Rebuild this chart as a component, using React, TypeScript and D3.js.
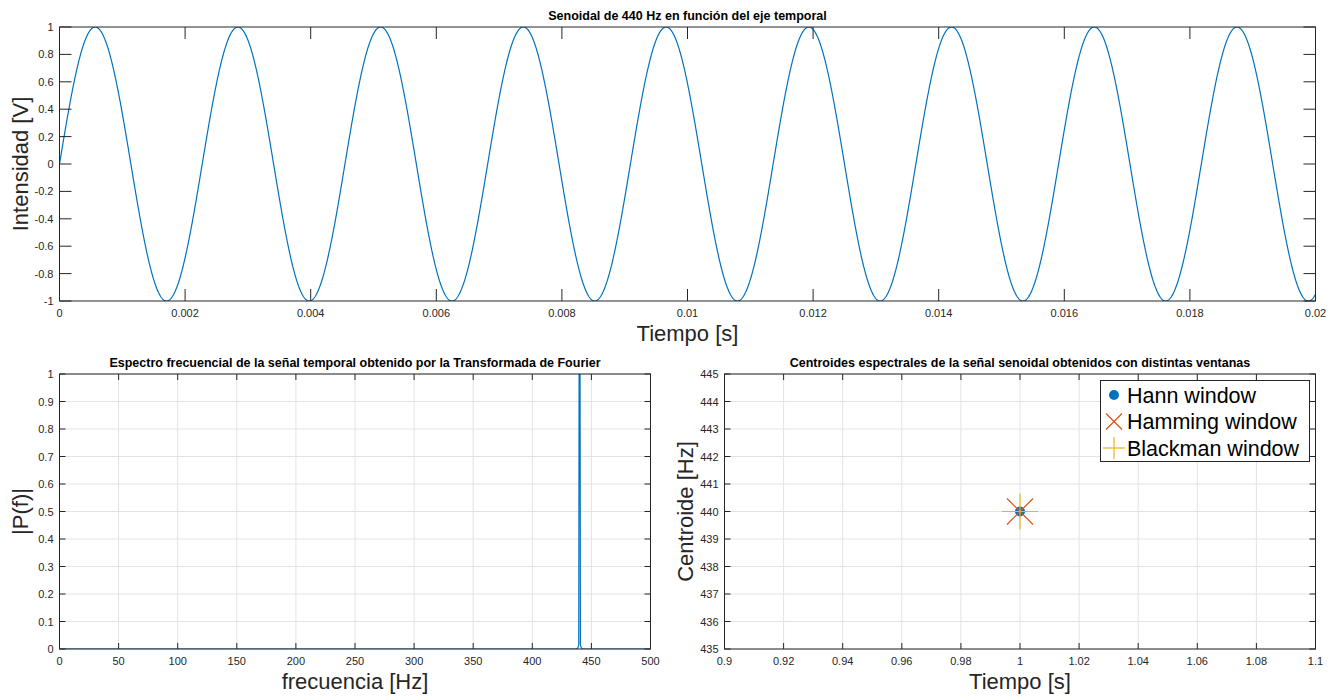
import React from "react";
import * as d3 from "d3";

// ---------- data ----------
const signalFrequency = 440; // Hz, sine shown in the top plot
const timeDomain = [0, 0.02];
const sampleCount = 4000;
const topXTicks = [0, 0.002, 0.004, 0.006, 0.008, 0.01, 0.012, 0.014, 0.016, 0.018, 0.02];
const topYTicks = [-1, -0.8, -0.6, -0.4, -0.2, 0, 0.2, 0.4, 0.6, 0.8, 1];

const spectrumFreq = [0, 437, 438.5, 439.3, 439.6, 440.4, 440.7, 441.5, 443, 500];
const spectrumMag = [0, 0, 0.004, 0.015, 1.0, 1.0, 0.015, 0.004, 0, 0];
const specXTicks = [0, 50, 100, 150, 200, 250, 300, 350, 400, 450, 500];
const specYTicks = [0, 0.1, 0.2, 0.3, 0.4, 0.5, 0.6, 0.7, 0.8, 0.9, 1];

const centroidTime = [1];
const hannCentroid = [440];
const hammingCentroid = [440];
const blackmanCentroid = [440];
const centXTicks = [0.9, 0.92, 0.94, 0.96, 0.98, 1, 1.02, 1.04, 1.06, 1.08, 1.1];
const centYTicks = [435, 436, 437, 438, 439, 440, 441, 442, 443, 444, 445];
const legendLabels = ["Hann window", "Hamming window", "Blackman window"];

// ---------- style ----------
const FONT = "'Liberation Sans', Arial, Helvetica, sans-serif";
const AXC = "#262626";
const GRID = "#e3e3e3";
const BLUE = "#0072BD";
const ORANGE = "#D95319";
const YELLOW = "#EDB120";

type AxesProps = {
  x0: number; x1: number; y0: number; y1: number;
  xs: d3.ScaleLinear<number, number>; ys: d3.ScaleLinear<number, number>;
  xTicks: number[]; yTicks: number[];
  tickLen: number; grid: boolean;
  title: string; xLabel: string; yLabel: string; yLabelX: number;
  children?: React.ReactNode;
};

function fmt(v: number) {
  const s = d3.format("~g")(+v.toPrecision(6));
  return s.replace("−", "-");
}

function Axes(p: AxesProps) {
  const { x0, x1, y0, y1, xs, ys, tickLen } = p;
  return (
    <g>
      {p.grid && p.xTicks.map((t, i) => (
        <line key={"gx" + i} x1={xs(t)} x2={xs(t)} y1={y0} y2={y1} stroke={GRID} strokeWidth={1} />
      ))}
      {p.grid && p.yTicks.map((t, i) => (
        <line key={"gy" + i} x1={x0} x2={x1} y1={ys(t)} y2={ys(t)} stroke={GRID} strokeWidth={1} />
      ))}
      <defs>
        <clipPath id={"clip" + x0 + "_" + y0}>
          <rect x={x0} y={y0} width={x1 - x0} height={y1 - y0} />
        </clipPath>
      </defs>
      <g clipPath={`url(#clip${x0}_${y0})`}>{p.children}</g>
      <rect x={x0} y={y0} width={x1 - x0} height={y1 - y0} fill="none" stroke={AXC} strokeWidth={1} />
      {p.xTicks.map((t, i) => (
        <g key={"tx" + i}>
          <line x1={xs(t)} x2={xs(t)} y1={y1} y2={y1 - tickLen} stroke={AXC} />
          <line x1={xs(t)} x2={xs(t)} y1={y0} y2={y0 + tickLen} stroke={AXC} />
          <text x={xs(t)} y={y1 + 16} textAnchor="middle" fontSize={11} fill={AXC} fontFamily={FONT}>{fmt(t)}</text>
        </g>
      ))}
      {p.yTicks.map((t, i) => (
        <g key={"ty" + i}>
          <line x1={x0} x2={x0 + tickLen} y1={ys(t)} y2={ys(t)} stroke={AXC} />
          <line x1={x1} x2={x1 - tickLen} y1={ys(t)} y2={ys(t)} stroke={AXC} />
          <text x={x0 - 6} y={ys(t) + 4} textAnchor="end" fontSize={11} fill={AXC} fontFamily={FONT}>{fmt(t)}</text>
        </g>
      ))}
      <text x={(x0 + x1) / 2} y={y0 - 7} textAnchor="middle" fontSize={12.5} fontWeight="bold" fill="#000" fontFamily={FONT}>{p.title}</text>
      <text x={(x0 + x1) / 2} y={y1 + 40} textAnchor="middle" fontSize={22} fill={AXC} fontFamily={FONT}>{p.xLabel}</text>
      <text transform={`translate(${p.yLabelX},${(y0 + y1) / 2}) rotate(-90)`} textAnchor="middle" fontSize={22} fill={AXC} fontFamily={FONT}>{p.yLabel}</text>
    </g>
  );
}

export default function App() {
  // top
  const tX0 = 59.5, tX1 = 1315.5, tY0 = 27, tY1 = 301;
  const txs = d3.scaleLinear().domain(timeDomain).range([tX0, tX1]);
  const tys = d3.scaleLinear().domain([-1, 1]).range([tY1, tY0]);
  const times = d3.range(sampleCount + 1).map((i) => timeDomain[0] + (i / sampleCount) * (timeDomain[1] - timeDomain[0]));
  const sinePts: [number, number][] = times.map((t) => [t, Math.sin(2 * Math.PI * signalFrequency * t)]);
  const sineLine = d3.line<[number, number]>().x((d) => txs(d[0])).y((d) => tys(d[1]));

  // bottom-left
  const lX0 = 59.5, lX1 = 650.5, bY0 = 374, bY1 = 649;
  const lxs = d3.scaleLinear().domain([0, 500]).range([lX0, lX1]);
  const lys = d3.scaleLinear().domain([0, 1]).range([bY1, bY0]);
  const specLine = d3.line<number>().x((_, i) => lxs(spectrumFreq[i])).y((d) => lys(d));

  // bottom-right
  const rX0 = 724.5, rX1 = 1315.5;
  const rxs = d3.scaleLinear().domain([0.9, 1.1]).range([rX0, rX1]);
  const rys = d3.scaleLinear().domain([435, 445]).range([bY1, bY0]);

  const lgX = 1100.5, lgY = 380.5, lgW = 209, lgH = 81;
  const rowY = [395, 421.5, 448];
  const mX = 1114;

  const xMark = (cx: number, cy: number, r: number) => (
    <g stroke={ORANGE} strokeWidth={1.2}>
      <line x1={cx - r} y1={cy - r} x2={cx + r} y2={cy + r} />
      <line x1={cx - r} y1={cy + r} x2={cx + r} y2={cy - r} />
    </g>
  );
  const plusMark = (cx: number, cy: number, r: number) => (
    <g stroke={YELLOW} strokeWidth={1.2}>
      <line x1={cx - r} y1={cy} x2={cx + r} y2={cy} />
      <line x1={cx} y1={cy - r} x2={cx} y2={cy + r} />
    </g>
  );

  return (
    <svg width={1334} height={696} style={{ position: "absolute", left: 0, top: 0, background: "#fff" }}>
      <rect width={1334} height={696} fill="#fff" />
      <Axes x0={tX0} x1={tX1} y0={tY0} y1={tY1} xs={txs} ys={tys} xTicks={topXTicks} yTicks={topYTicks}
        tickLen={12} grid={false} title="Senoidal de 440 Hz en función del eje temporal"
        xLabel="Tiempo [s]" yLabel="Intensidad [V]" yLabelX={28}>
        <path d={sineLine(sinePts) || ""} fill="none" stroke={BLUE} strokeWidth={1.2} />
      </Axes>
      <Axes x0={lX0} x1={lX1} y0={bY0} y1={bY1} xs={lxs} ys={lys} xTicks={specXTicks} yTicks={specYTicks}
        tickLen={6} grid={true} title="Espectro frecuencial de la señal temporal obtenido por la Transformada de Fourier"
        xLabel="frecuencia [Hz]" yLabel="|P(f)|" yLabelX={28}>
        <path d={specLine(spectrumMag) || ""} fill="none" stroke={BLUE} strokeWidth={1.2} />
      </Axes>
      <Axes x0={rX0} x1={rX1} y0={bY0} y1={bY1} xs={rxs} ys={rys} xTicks={centXTicks} yTicks={centYTicks}
        tickLen={6} grid={true} title="Centroides espectrales de la señal senoidal obtenidos con distintas ventanas"
        xLabel="Tiempo [s]" yLabel="Centroide [Hz]" yLabelX={693}>
        {centroidTime.map((t, i) => (
          <g key={i}>
            <circle cx={rxs(t)} cy={rys(hannCentroid[i])} r={5} fill={BLUE} />
            {xMark(rxs(t), rys(hammingCentroid[i]), 13)}
            {plusMark(rxs(t), rys(blackmanCentroid[i]), 18)}
          </g>
        ))}
      </Axes>
      <rect x={lgX} y={lgY} width={lgW} height={lgH} fill="#fff" stroke={AXC} strokeWidth={1} />
      <circle cx={mX} cy={rowY[0]} r={5} fill={BLUE} />
      {xMark(mX, rowY[1], 8)}
      {plusMark(mX, rowY[2], 11)}
      {legendLabels.map((l, i) => (
        <text key={i} x={1127} y={rowY[i] + 7.5} fontSize={21.5} fill="#000" fontFamily={FONT}>{l}</text>
      ))}
    </svg>
  );
}
